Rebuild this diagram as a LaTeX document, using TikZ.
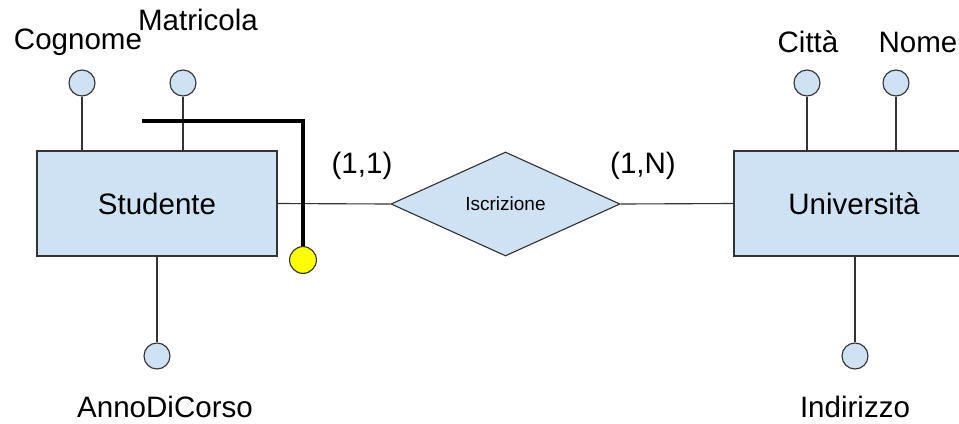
\documentclass[tikz,border=0pt]{standalone}
\usepackage{fontspec}
\setmainfont{Liberation Sans}
\usetikzlibrary{shapes.geometric}

\definecolor{erFill}{HTML}{CFE2F3}
\definecolor{erLine}{HTML}{333333}
\definecolor{keyYel}{HTML}{FFFF00}

\begin{document}
\begin{tikzpicture}[
    x=0.025cm, y=-0.025cm,
    entity/.style={draw=erLine, fill=erFill, thick, minimum width=6cm,
                   minimum height=2.625cm, inner sep=0pt,
                   font=\fontsize{21}{25}\selectfont},
    relation/.style={diamond, draw=erLine, fill=erFill, thick,
                     minimum width=5.725cm, minimum height=2.6cm, inner sep=0pt,
                     font=\fontsize{13.5}{16}\selectfont},
    attr/.style={circle, draw=erLine, fill=erFill, thick,
                 minimum size=0.65cm, inner sep=0pt},
    lbl/.style={font=\fontsize{21}{25}\selectfont, inner sep=0pt},
    conn/.style={draw=erLine, thick},
    keyline/.style={draw=black, line width=2.8pt},
]
\useasboundingbox (0,0) rectangle (959,423);

% --- Entities and relation ---
\node[entity] (stud) at (157,203.5) {Studente};
\node[entity] (univ) at (854,203.5) {Università};
\node[relation] (iscr) at (505.5,204) {Iscrizione};

\draw[conn] (stud.east) -- (iscr.west);
\draw[conn] (iscr.east) -- (univ.west);

% Cardinalities
\node[lbl] (c11) at (362,166) {(1,1)};
\node[lbl] (c1n) at (643,166) {(1,N)};

% --- Attributes of Studente ---
\node[attr] (cogn) at (82,83) {};
\node[attr] (matr) at (183,83) {};
\node[attr] (anno) at (157,356) {};
\node[lbl] at (78,42) {Cognome};
\node[lbl] at (198,20) {Matricola};
\node[lbl] at (165,407) {AnnoDiCorso};

\draw[conn] (cogn.south) -- (cogn.south |- stud.north);
\draw[conn] (matr.south) -- (matr.south |- stud.north);
\draw[conn] (stud.south) -- (anno.north);

% --- Attributes of Universita ---
\node[attr] (citt) at (807,83) {};
\node[attr] (nome) at (896,83) {};
\node[attr] (indi) at (855,356) {};
\node[lbl] at (808,42) {Città};
\node[lbl] at (918,42) {Nome};
\node[lbl] at (855,407) {Indirizzo};

\draw[conn] (citt.south) -- (citt.south |- univ.north);
\draw[conn] (nome.south) -- (nome.south |- univ.north);
\draw[conn] (indi.north |- univ.south) -- (indi.north);

% --- External identifier ---
\node[circle, draw=erLine, fill=keyYel, thick, minimum size=0.67cm,
      inner sep=0pt] (key) at (303,260) {};
\coordinate (kstart) at (142,121);
\draw[keyline] (kstart) -| (key.north);

\end{tikzpicture}
\end{document}
